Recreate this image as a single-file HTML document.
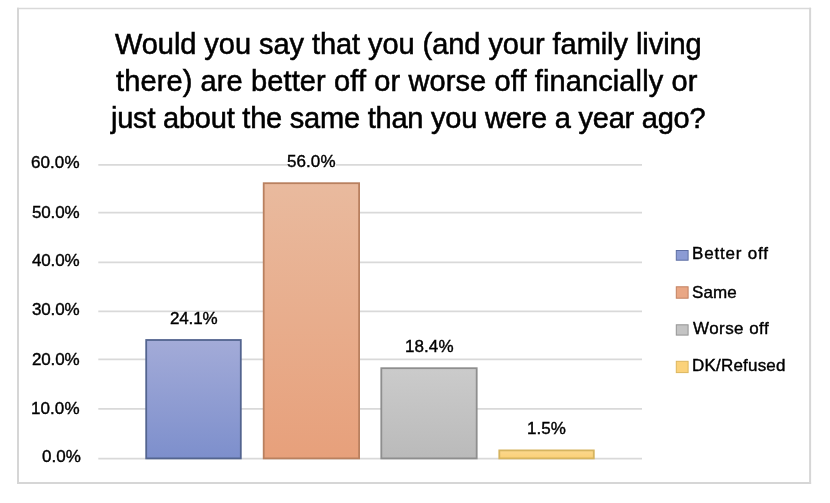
<!DOCTYPE html>
<html>
<head>
<meta charset="utf-8">
<style>
html, body { margin: 0; padding: 0; background: #ffffff; }
body { width: 830px; height: 503px; overflow: hidden; position: relative; font-family: "Liberation Sans", sans-serif; color: #000; }
.t { position: absolute; white-space: nowrap; line-height: 1; will-change: transform; -webkit-text-stroke: 0.4px #000; }
.tt { -webkit-text-stroke: 0.55px #000; }
.dl { background: linear-gradient(#fff,#fff) 0 2.2px / 100% 12.6px no-repeat; }
</style>
</head>
<body>
<svg width="830" height="503" style="position:absolute;left:0;top:0">
<defs>
<linearGradient id="gb" x1="0" y1="0" x2="0" y2="1"><stop offset="0" stop-color="#a3abd8"/><stop offset="1" stop-color="#7d8fcc"/></linearGradient>
<linearGradient id="go" x1="0" y1="0" x2="0" y2="1"><stop offset="0" stop-color="#e9ba9e"/><stop offset="1" stop-color="#e7a07b"/></linearGradient>
<linearGradient id="gg" x1="0" y1="0" x2="0" y2="1"><stop offset="0" stop-color="#cbcbcb"/><stop offset="1" stop-color="#bababa"/></linearGradient>
<linearGradient id="gy" x1="0" y1="0" x2="0" y2="1"><stop offset="0" stop-color="#fbd88e"/><stop offset="1" stop-color="#fbd076"/></linearGradient>
</defs>
<line x1="17" x2="811.1" y1="8.6" y2="8.6" stroke="#d9d9d9" stroke-width="1.5"/><line x1="17" x2="811.1" y1="482.9" y2="482.9" stroke="#d6d6d6" stroke-width="2"/><line x1="18" x2="18" y1="7.85" y2="483.9" stroke="#d6d6d6" stroke-width="2"/><line x1="810.1" x2="810.1" y1="7.85" y2="483.9" stroke="#d6d6d6" stroke-width="2"/>

<line x1="98.3" x2="642" y1="164.9" y2="164.9" stroke="#d9d9d9" stroke-width="1.75"/><line x1="98.3" x2="642" y1="212.6" y2="212.6" stroke="#d9d9d9" stroke-width="1.75"/><line x1="98.3" x2="642" y1="262.3" y2="262.3" stroke="#d9d9d9" stroke-width="1.75"/><line x1="98.3" x2="642" y1="311.4" y2="311.4" stroke="#d9d9d9" stroke-width="1.75"/><line x1="98.3" x2="642" y1="359.4" y2="359.4" stroke="#d9d9d9" stroke-width="1.75"/><line x1="98.3" x2="642" y1="408.9" y2="408.9" stroke="#d9d9d9" stroke-width="1.75"/><line x1="98.3" x2="642" y1="458.5" y2="458.5" stroke="#d9d9d9" stroke-width="1.75"/>
<rect x="146.20" y="340.00" width="94.60" height="118.40" fill="url(#gb)" stroke="#53648f" stroke-width="1.8"/>
<rect x="263.70" y="183.20" width="95.40" height="275.20" fill="url(#go)" stroke="#b9805f" stroke-width="1.8"/>
<rect x="381.30" y="368.20" width="95.40" height="90.20" fill="url(#gg)" stroke="#8e8e8e" stroke-width="1.8"/>
<rect x="499.30" y="450.40" width="94.50" height="8.00" fill="url(#gy)" stroke="#d6b45f" stroke-width="1.8"/>
<rect x="676.3" y="250.5" width="11.8" height="9.7" fill="#8b9bd4" stroke="#5d6ea3" stroke-width="1"/>
<rect x="676.3" y="286.8" width="11.8" height="11.4" fill="#e9a785" stroke="#c28060" stroke-width="1"/>
<rect x="676.3" y="324.8" width="11.8" height="10.3" fill="#c4c4c4" stroke="#949494" stroke-width="1"/>
<rect x="676.3" y="361.3" width="11.8" height="11.3" fill="#fbd27a" stroke="#dcb65e" stroke-width="1"/>
</svg>
<div class="t tt" style="left:115.30px; top:30.05px; font-size:29px; letter-spacing:-0.060px;">Would you say that you (and your family living</div>
<div class="t tt" style="left:115.70px; top:67.10px; font-size:29px; letter-spacing:0.112px;">there) are better off or worse off financially or</div>
<div class="t tt" style="left:110.70px; top:104.15px; font-size:29px; letter-spacing:-0.225px;">just about the same than you were a year ago?</div>
<div class="t" style="left:31.30px; top:154.49px; font-size:17px; letter-spacing:0.075px;">60.0%</div>
<div class="t" style="left:32.20px; top:204.43px; font-size:17px; letter-spacing:-0.150px;">50.0%</div>
<div class="t" style="left:32.20px; top:251.84px; font-size:17px; letter-spacing:-0.150px;">40.0%</div>
<div class="t" style="left:32.20px; top:301.15px; font-size:17px; letter-spacing:-0.150px;">30.0%</div>
<div class="t" style="left:32.20px; top:350.63px; font-size:17px; letter-spacing:-0.150px;">20.0%</div>
<div class="t" style="left:31.30px; top:400.21px; font-size:17px; letter-spacing:0.075px;">10.0%</div>
<div class="t" style="left:41.60px; top:448.08px; font-size:17px; letter-spacing:0.000px;">0.0%</div>
<div class="t dl" style="left:169.90px; top:310.45px; font-size:17px; letter-spacing:-0.150px;">24.1%</div>
<div class="t dl" style="left:287.10px; top:152.60px; font-size:17px; letter-spacing:0.075px;">56.0%</div>
<div class="t dl" style="left:405.00px; top:337.60px; font-size:17px; letter-spacing:0.075px;">18.4%</div>
<div class="t dl" style="left:527.10px; top:420.45px; font-size:17px; letter-spacing:0.000px;">1.5%</div>
<div class="t" style="left:691.60px; top:244.70px; font-size:17px; letter-spacing:0.800px;">Better off</div>
<div class="t" style="left:691.60px; top:283.70px; font-size:17px; letter-spacing:0.100px;">Same</div>
<div class="t" style="left:692.50px; top:320.00px; font-size:17px; letter-spacing:0.438px;">Worse off</div>
<div class="t" style="left:691.60px; top:357.20px; font-size:17px; letter-spacing:0.200px;">DK/Refused</div>
</body>
</html>
